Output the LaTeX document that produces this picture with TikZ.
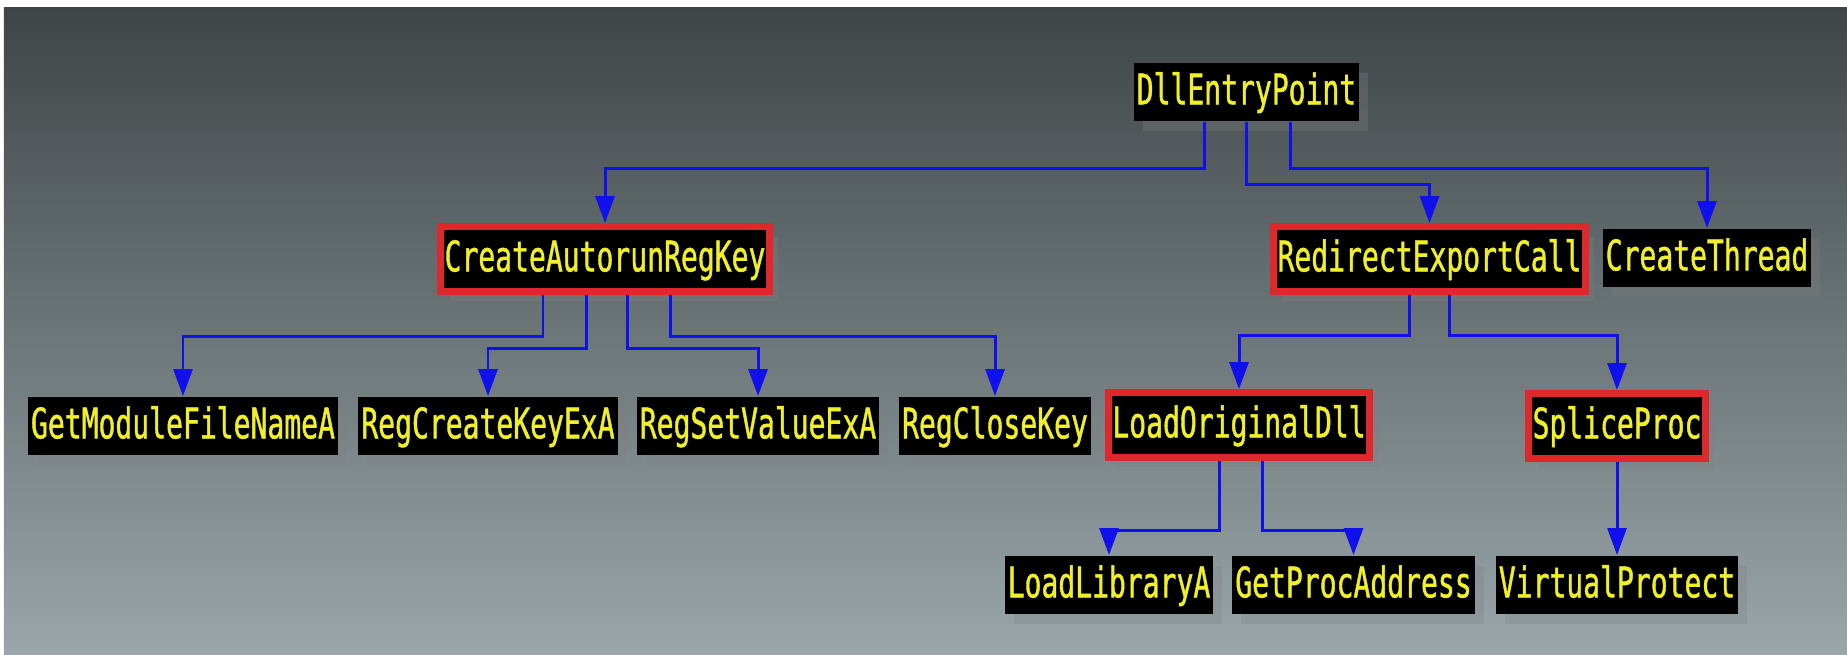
\documentclass[tikz,border=0pt]{standalone}
\usepackage{fontspec}
\newfontfamily\callfont[FakeStretch=0.665,FakeBold=1]{DejaVu Sans Mono}
\usetikzlibrary{arrows.meta}
\usetikzlibrary{shadows}

\definecolor{calltext}{RGB}{240,240,40}
\definecolor{hookred}{RGB}{222,40,44}
\definecolor{linkblue}{RGB}{16,16,236}
\definecolor{bgtop}{RGB}{62,69,71}
\definecolor{bgbottom}{RGB}{154,166,170}

\begin{document}
\begin{tikzpicture}[
  call/.style={shape=rectangle,fill=black,text=calltext,font=\callfont\fontsize{12}{14}\selectfont,text height=10.35pt,text depth=3.3pt,inner xsep=0.85pt,inner ysep=1.5pt,drop shadow={shadow xshift=0.9mm,shadow yshift=-1mm,opacity=0.3}},
  hook/.style={call,draw=hookred,line width=2pt,inner xsep=1.1pt,inner ysep=2.4pt},
  link/.style={draw=linkblue,line width=0.85pt,-{Triangle[length=2.7mm,width=1.9mm]}}]
\fill[white] (0,0) rectangle (18.47,6.54);
\useasboundingbox (0,0) rectangle (18.47,6.54);
\shade[top color=bgtop,bottom color=bgbottom] (0.04,0) rectangle (18.47,6.47);

\draw (12.465,5.62) node (entry) [call] {DllEntryPoint};
\draw (6.05,3.95) node (autorun) [hook] {CreateAutorunRegKey};
\draw (14.295,3.95) node (redirect) [hook] {RedirectExportCall};
\draw (17.07,3.96) node (thread) [call] {CreateThread};
\draw (1.83,2.28) node (getmod) [call] {GetModuleFileNameA};
\draw (4.88,2.28) node (regcreate) [call] {RegCreateKeyExA};
\draw (7.58,2.28) node (regset) [call] {RegSetValueExA};
\draw (9.95,2.28) node (regclose) [call] {RegCloseKey};
\draw (12.39,2.29) node (loaddll) [hook] {LoadOriginalDll};
\draw (16.17,2.28) node (splice) [hook] {SpliceProc};
\draw (11.09,0.69) node (loadlib) [call] {LoadLibraryA};
\draw (13.535,0.69) node (getproc) [call] {GetProcAddress};
\draw (16.17,0.69) node (vprot) [call] {VirtualProtect};

\draw[link] ([xshift=-4.2mm]entry.south) -- ++(0,-0.47) -| (autorun.north);
\draw[link] (entry.south) -- ++(0,-0.63) -| (redirect.north);
\draw[link] ([xshift=4.4mm]entry.south) -- ++(0,-0.47) -| (thread.north);
\draw[link] ([xshift=-6.2mm]autorun.south) -- ++(0,-0.42) -| (getmod.north);
\draw[link] ([xshift=-1.9mm]autorun.south) -- ++(0,-0.54) -| (regcreate.north);
\draw[link] ([xshift=2.2mm]autorun.south) -- ++(0,-0.54) -| (regset.north);
\draw[link] ([xshift=6.5mm]autorun.south) -- ++(0,-0.42) -| (regclose.north);
\draw[link] ([xshift=-2.05mm]redirect.south) -- ++(0,-0.41) -| (loaddll.north);
\draw[link] ([xshift=1.95mm]redirect.south) -- ++(0,-0.41) -| (splice.north);
\draw[link] ([xshift=-2mm]loaddll.south) -- ++(0,-0.7) -| (loadlib.north);
\draw[link] ([xshift=2.3mm]loaddll.south) -- ++(0,-0.7) -| (getproc.north);
\draw[link] (splice.south) -- (vprot.north);
\end{tikzpicture}
\end{document}
